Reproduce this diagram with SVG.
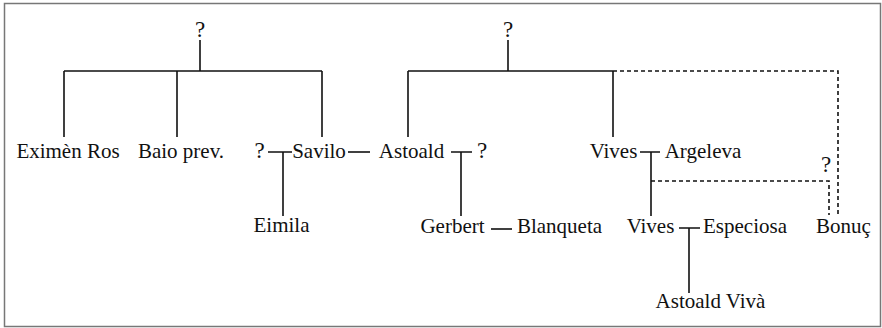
<svg xmlns="http://www.w3.org/2000/svg" width="882" height="328" viewBox="0 0 882 328">
<style>
text{font-family:"Liberation Serif","DejaVu Serif",serif;font-size:21px;fill:#111;text-anchor:middle}
.q{font-size:23px}
.l{stroke:#111;stroke-width:1.6;fill:none}
.d{stroke:#111;stroke-width:1.6;fill:none;stroke-dasharray:4 3}
</style>
<rect x="4.5" y="3.5" width="876" height="323" fill="#fff" stroke="#777" stroke-width="1.5"/>
<g id="connectors">
<path class="l" d="M200 40V71M64 71H322M64 71V137M177 71V137M322 71V137"/>
<path class="l" d="M268 152H292M283 152V216"/>
<path class="l" d="M348 152H370"/>
<path class="l" d="M508 40V71M408 71H613M408 71V137M613 71V137"/>
<path class="l" d="M451 152H472M461 152V216"/>
<path class="l" d="M491 229H512"/>
<path class="l" d="M640 152H660M651 152V216"/>
<path class="l" d="M679 228H700M689 228V293"/>
<path class="d" d="M613 71H838V215"/>
<path class="d" d="M651 181H829V215"/>
</g>
<g id="n-q1"><text class="q" x="200" y="37">?</text></g>
<g id="n-q2"><text class="q" x="508" y="37">?</text></g>
<g id="n-eximen"><text x="68" y="158">Eximèn Ros</text></g>
<g id="n-baio"><text x="181" y="158">Baio prev.</text></g>
<g id="n-q3"><text class="q" x="259.5" y="158">?</text></g>
<g id="n-savilo"><text x="319" y="158">Savilo</text></g>
<g id="n-astoald"><text x="411.5" y="158">Astoald</text></g>
<g id="n-q4"><text class="q" x="482" y="158">?</text></g>
<g id="n-vives1"><text x="613.5" y="158">Vives</text></g>
<g id="n-argeleva"><text x="703" y="158">Argeleva</text></g>
<g id="n-q5"><text class="q" x="826" y="172">?</text></g>
<g id="n-eimila"><text x="281.5" y="232">Eimila</text></g>
<g id="n-gerbert"><text x="452.5" y="233">Gerbert</text></g>
<g id="n-blanqueta"><text x="559.5" y="233">Blanqueta</text></g>
<g id="n-vives2"><text x="650.5" y="233">Vives</text></g>
<g id="n-especiosa"><text x="745" y="233">Especiosa</text></g>
<g id="n-bonuc"><text x="843.5" y="233">Bonuç</text></g>
<g id="n-astoaldviva"><text x="710.5" y="308">Astoald Vivà</text></g>
</svg>
